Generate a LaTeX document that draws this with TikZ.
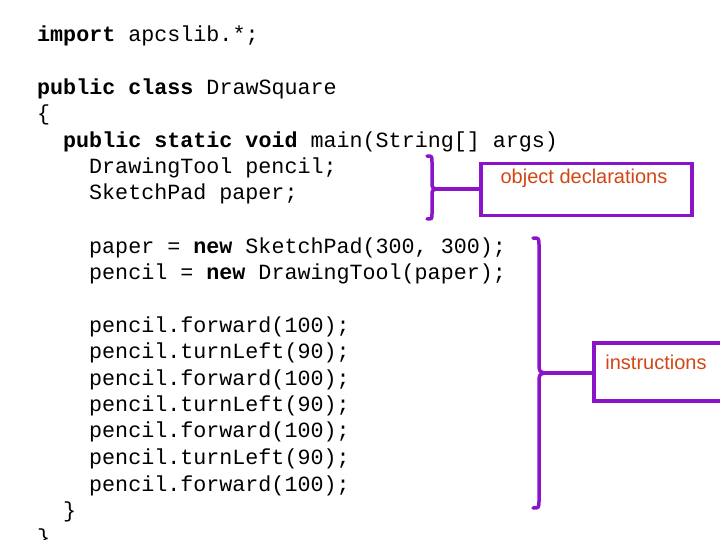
\documentclass[tikz,border=0pt]{standalone}
\usepackage{fontspec}
\setmonofont{Liberation Mono}
\setsansfont{Liberation Sans}
\definecolor{pur}{RGB}{140,20,200}
\definecolor{org}{RGB}{210,70,20}
\begin{document}
\begin{tikzpicture}[x=1pt,y=-1pt,
  code/.style={anchor=base west,inner sep=0pt,font=\fontsize{21.7}{26}\selectfont\ttfamily},
  lbl/.style={font=\fontsize{20}{24}\selectfont\sffamily,text=org},
  pp/.style={draw=pur,line width=3.5pt},
  br/.style={draw=pur,line width=3.5pt,line cap=round,line join=round}]
\useasboundingbox (0,0) rectangle (720,540);
\node[code] (l1) at (37,42) {\textbf{import} apcslib.*;};
\node[code] (l2) at (37,95) {\textbf{public class} DrawSquare};
\node[code] (l3) at (37,121) {\{};
\node[code] (l4) at (63,148) {\textbf{public static void} main(String[] args)};
\node[code] (l5) at (89,174) {DrawingTool pencil;};
\node[code] (l6) at (89,200) {SketchPad paper;};
\node[code] (l7) at (89,253) {paper = \textbf{new} SketchPad(300, 300);};
\node[code] (l8) at (89,279) {pencil = \textbf{new} DrawingTool(paper);};
\node[code] (l9) at (89,332) {pencil.forward(100);};
\node[code] (l10) at (89,358) {pencil.turnLeft(90);};
\node[code] (l11) at (89,385) {pencil.forward(100);};
\node[code] (l12) at (89,411) {pencil.turnLeft(90);};
\node[code] (l13) at (89,437) {pencil.forward(100);};
\node[code] (l14) at (89,464) {pencil.turnLeft(90);};
\node[code] (l15) at (89,491) {pencil.forward(100);};
\node[code] (l16) at (63,517) {\}};
\node[code] (l17) at (37,544) {\}};
% object declarations
\draw[br] (427,156) .. controls (432,156) .. (432,162) -- (432,182) .. controls (432,188) .. (437,189)
  .. controls (432,190) .. (432,196) -- (432,214) .. controls (432,219) .. (427,219);
\node[pp,minimum width=211pt,minimum height=52pt,anchor=north west] (ob) at (479,162) {};
\node[lbl] (obt) at (584,178) {object declarations};
\draw[pp] (437,189) -- (ob.west |- 0,189);
% instructions
\draw[br] (533,238) .. controls (539,238) .. (539,246) -- (539,362) .. controls (539,372) .. (546,373)
  .. controls (539,374) .. (539,384) -- (539,500) .. controls (539,508) .. (533,508);
\node[pp,minimum width=130pt,minimum height=58pt,anchor=north west] (in) at (592,341) {};
\node[lbl] (int) at (656,362) {instructions};
\draw[pp] (546,373) -- (in.west |- 0,373);
\end{tikzpicture}
\end{document}
